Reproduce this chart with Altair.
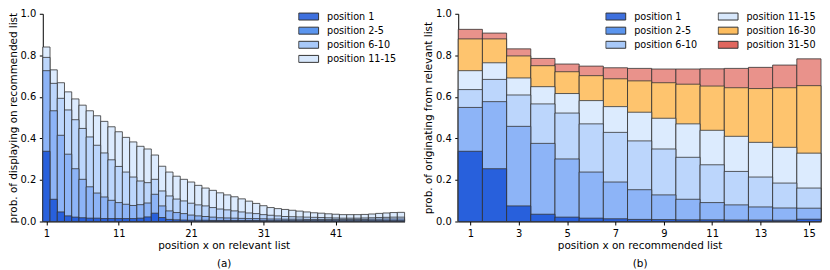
import altair as alt
import pandas as pd

FONT = "DejaVu Sans"

# ---------------- panel (a): cumulative probability of display ----------------
A_X = list(range(1, 51))
A_TOP1 = [0.338, 0.107, 0.046, 0.027, 0.021, 0.018, 0.016, 0.016, 0.014, 0.014,
          0.014, 0.014, 0.014, 0.016, 0.022, 0.040, 0.019, 0.010, 0.008, 0.007,
          0.006, 0.006, 0.006, 0.005, 0.005, 0.005, 0.005, 0.005, 0.005, 0.005,
          0.004, 0.004, 0.004, 0.004, 0.004, 0.004, 0.004, 0.004, 0.004, 0.004,
          0.004, 0.004, 0.004, 0.004, 0.004, 0.004, 0.004, 0.004, 0.004, 0.004]
A_TOP5 = [0.726, 0.533, 0.415, 0.324, 0.254, 0.203, 0.167, 0.137, 0.118, 0.102,
          0.091, 0.083, 0.077, 0.081, 0.089, 0.131, 0.075, 0.051, 0.043, 0.038,
          0.031, 0.027, 0.024, 0.021, 0.018, 0.017, 0.016, 0.015, 0.014, 0.014,
          0.013, 0.012, 0.012, 0.011, 0.011, 0.011, 0.010, 0.010, 0.010, 0.010,
          0.010, 0.010, 0.010, 0.010, 0.010, 0.011, 0.011, 0.012, 0.012, 0.012]
A_TOP10 = [0.790, 0.665, 0.593, 0.537, 0.490, 0.448, 0.407, 0.367, 0.330, 0.297,
           0.265, 0.238, 0.214, 0.195, 0.187, 0.203, 0.147, 0.123, 0.108, 0.099,
           0.088, 0.080, 0.075, 0.067, 0.060, 0.056, 0.051, 0.046, 0.041, 0.038,
           0.033, 0.030, 0.027, 0.024, 0.023, 0.022, 0.021, 0.020, 0.019, 0.018,
           0.017, 0.016, 0.016, 0.016, 0.017, 0.018, 0.019, 0.020, 0.021, 0.021]
A_TOP15 = [0.840, 0.730, 0.668, 0.624, 0.590, 0.560, 0.533, 0.509, 0.482, 0.456,
           0.432, 0.405, 0.383, 0.362, 0.349, 0.320, 0.266, 0.238, 0.218, 0.203,
           0.190, 0.174, 0.161, 0.150, 0.138, 0.128, 0.119, 0.109, 0.098, 0.087,
           0.076, 0.067, 0.062, 0.058, 0.054, 0.050, 0.046, 0.042, 0.040, 0.037,
           0.035, 0.033, 0.033, 0.033, 0.034, 0.036, 0.039, 0.041, 0.043, 0.044]
A_GROUPS = ["position 1", "position 2-5", "position 6-10", "position 11-15"]
A_TICKS = [1, 11, 21, 31, 41]

# ---------------- panel (b): cumulative probability of origin ----------------
B_X = list(range(1, 16))
B_TOP1 = [0.338, 0.254, 0.075, 0.035, 0.021, 0.016, 0.013, 0.010, 0.009, 0.008,
          0.008, 0.007, 0.007, 0.006, 0.011]
B_TOP5 = [0.549, 0.577, 0.458, 0.376, 0.301, 0.238, 0.190, 0.153, 0.128, 0.107,
          0.091, 0.080, 0.070, 0.065, 0.064]
B_TOP10 = [0.635, 0.684, 0.609, 0.566, 0.522, 0.470, 0.429, 0.388, 0.349, 0.309,
           0.273, 0.241, 0.214, 0.185, 0.161]
B_TOP15 = [0.726, 0.764, 0.691, 0.649, 0.616, 0.582, 0.553, 0.526, 0.497, 0.470,
           0.439, 0.410, 0.381, 0.357, 0.329]
B_TOP30 = [0.879, 0.879, 0.797, 0.750, 0.721, 0.702, 0.687, 0.677, 0.668, 0.661,
           0.652, 0.644, 0.640, 0.644, 0.654]
B_TOP50 = [0.925, 0.907, 0.831, 0.785, 0.758, 0.748, 0.740, 0.737, 0.734, 0.734,
           0.735, 0.737, 0.742, 0.753, 0.783]
B_GROUPS = ["position 1", "position 2-5", "position 6-10", "position 11-15",
            "position 16-30", "position 31-50"]
B_TICKS = [1, 3, 5, 7, 9, 11, 13, 15]

BAR_COLORS = ["#2860dc", "#8db4f7", "#bcd6fc", "#dcebfe", "#fec46e", "#e9928b"]
LEG_COLORS = ["#3e70de", "#5b95ee", "#a8c9f9", "#d8e8fc", "#fdbd5f", "#e0665e"]

RECT = "M-1,-0.35L1,-0.35L1,0.35L-1,0.35Z"


def frame(xs, groups, series):
    rows = []
    n = len(groups)
    # largest cumulative layer first so it is drawn underneath
    for gi in reversed(range(n)):
        for x, v in zip(xs, series[gi]):
            rows.append({"x": x, "group": groups[gi], "value": v, "z": n - gi})
    return pd.DataFrame(rows)


def panel(df, groups, ticks, xmax, xtitle, ytitle, legend_x, columns):
    n = len(groups)
    base = alt.Chart(df).transform_calculate(
        lo="datum.x - 0.5", hi="datum.x + 0.5"
    )
    x = alt.X("lo:Q", scale=alt.Scale(domain=[0.5, xmax + 0.5], nice=False, zero=False),
              axis=alt.Axis(values=ticks, format="d", title=xtitle, titlePadding=2.5,
                            titleLineHeight=18))
    y = alt.Y("value:Q", stack=None, scale=alt.Scale(domain=[0, 1], nice=False),
              axis=alt.Axis(values=[0, 0.2, 0.4, 0.6, 0.8, 1.0], format=".1f",
                            title=ytitle, titlePadding=2))
    bars = base.mark_bar(stroke="#333333", strokeWidth=1, strokeOpacity=0.8).encode(
        x=x, x2="hi:Q", y=y, y2=alt.datum(0),
        color=alt.Color("group:N", scale=alt.Scale(domain=groups, range=BAR_COLORS[:n]),
                        legend=None),
        order=alt.Order("z:Q"),
    )
    legend = base.mark_bar(opacity=0, stroke="#333333").encode(
        x=x, x2="hi:Q", y=y, y2=alt.datum(0),
        fill=alt.Fill("group:N", scale=alt.Scale(domain=groups, range=LEG_COLORS[:n]),
                      legend=alt.Legend(orient="none", legendX=legend_x, legendY=-3.2,
                                        direction="vertical", columns=columns,
                                        title=None, padding=0, symbolType=RECT,
                                        symbolSize=400, symbolOpacity=1,
                                        symbolStrokeColor="#333333", symbolStrokeWidth=1,
                                        clipHeight=12, rowPadding=2.2, columnPadding=20,
                                        labelOffset=8, labelFont=FONT, labelFontSize=9.7,
                                        labelColor="black")),
    )
    return alt.layer(bars, legend).resolve_scale(color="independent", fill="independent")


df_a = frame(A_X, A_GROUPS, [A_TOP1, A_TOP5, A_TOP10, A_TOP15])
df_b = frame(B_X, B_GROUPS, [B_TOP1, B_TOP5, B_TOP10, B_TOP15, B_TOP30, B_TOP50])

left = panel(df_a, A_GROUPS, A_TICKS, 50, ["position x on relevant list", "(a)"],
             "prob. of displaying on recommended list", 257, 1).properties(
    width=364, height=209)
right = panel(df_b, B_GROUPS, B_TICKS, 15, ["position x on recommended list", "(b)"],
              "prob. of originating from relevant list", 148, 2).properties(
    width=365, height=209)

chart = alt.hconcat(left, right, spacing=18).resolve_scale(
    x="independent", y="independent", color="independent", fill="independent"
).resolve_legend(color="independent", fill="independent").properties(
    padding={"left": 0, "top": 0, "right": 0, "bottom": 0}
).configure_view(stroke=None).configure_axis(
    labelFont=FONT, labelFontSize=10, labelColor="black",
    titleFont=FONT, titleFontSize=10.5, titleFontWeight="normal", titleColor="black",
    domainColor="black", domainWidth=1, tickColor="black", tickWidth=1,
    tickSize=3.5, labelPadding=3.5, grid=False
)

chart.save("out.html", embed_options={"renderer": "svg", "actions": False})
